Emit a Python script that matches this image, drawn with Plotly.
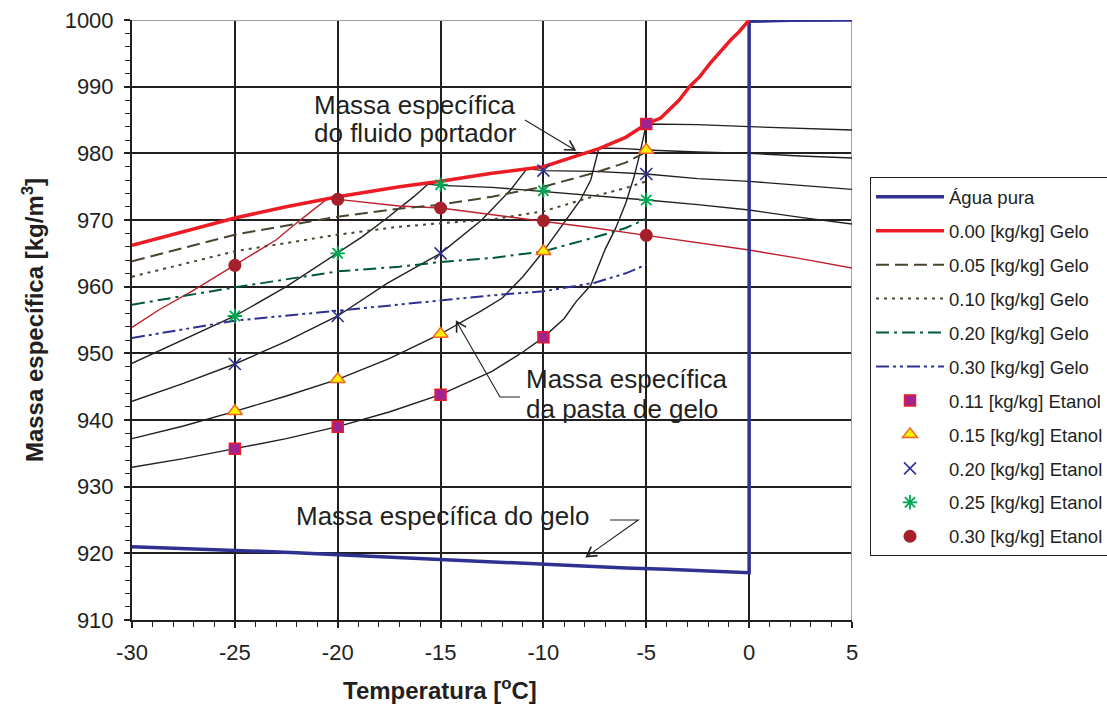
import math
import plotly.graph_objects as go

# ---------------- data ----------------
# pure water: ice below 0 °C, liquid water above
agua_T = [-30, -28, -26, -24, -22, -20, -18, -16, -14, -12, -10, -8, -6, -4, -2, 0, 0, 2, 5]
agua_rho = [921.0, 920.8, 920.5, 920.3, 920.1, 919.8, 919.5, 919.2, 918.9, 918.7,
            918.4, 918.1, 917.8, 917.6, 917.3, 917.1, 999.8, 999.95, 1000.0]

# carrier fluid density (0.00 kg/kg ice)
gelo000_T = [-30, -27.5, -25, -22.5, -20, -17, -15, -12.5, -10, -8.5, -7.3, -6, -5,
             -4.3, -3.4, -2.9, -2.4, -1.9, -0.9, -0.5, 0]
gelo000_rho = [966.2, 968.3, 970.3, 972.0, 973.5, 975.0, 975.8, 977.0, 978.0, 979.5,
               980.7, 982.4, 984.4, 985.3, 988.0, 990.0, 991.5, 993.5, 997.0, 998.2, 1000.0]

# iso ice-fraction lines
gelo_T = [-30, -25, -20, -17, -15, -12.5, -10, -7.5, -6, -5]
gelo005_rho = [963.8, 967.8, 970.5, 971.7, 972.3, 973.5, 975.0, 977.1, 978.6, 980.2]
gelo010_rho = [961.5, 965.3, 967.8, 969.0, 969.5, 970.1, 971.3, 973.6, 974.8, 975.8]
gelo020_rho = [957.3, 959.9, 962.3, 963.0, 963.7, 964.3, 965.3, 967.4, 968.8, 970.2]
gelo030_rho = [952.3, 954.9, 956.4, 957.3, 958.0, 958.7, 959.3, 960.6, 962.0, 963.3]

# ice slurry density curves for each ethanol mass fraction
etanol011_T = [-30, -27.5, -25, -22.5, -20, -17.5, -15, -12.5, -11, -10, -9, -8.4, -7.7,
               -7.0, -6.5, -6.0, -5.6, -5.3, -5.0, -2.5, 0, 2.5, 5]
etanol011_rho = [932.9, 934.2, 935.7, 937.2, 939.0, 941.2, 943.8, 947.3, 950.2, 952.4,
                 955.2, 957.8, 960.2, 965.6, 968.7, 972.5, 976.4, 980.1, 984.4, 984.3,
                 984.0, 983.8, 983.5]

etanol015_T = [-30, -27.5, -25, -22.5, -20, -17.5, -15, -13, -12, -11, -10, -9.0, -8.2,
               -7.7, -7.3, -6, -5, -2.5, 0, 2.5, 5]
etanol015_rho = [937.2, 939.1, 941.3, 943.6, 946.1, 949.2, 952.9, 956.4, 958.3, 961.5,
                 965.3, 969.5, 973.0, 976.0, 980.8, 980.7, 980.5, 980.2, 980.0, 979.6, 979.3]

etanol020_T = [-30, -27.5, -25, -22.5, -20, -17.6, -15, -13, -11.6, -10.8, -10, -7.5, -5,
               -2.5, 0, 2.5, 5]
etanol020_rho = [942.8, 945.5, 948.4, 951.8, 955.6, 960.5, 965.0, 970.0, 974.5, 977.7,
                 977.4, 977.3, 976.9, 976.2, 975.8, 975.2, 974.6]

etanol025_T = [-30, -27.5, -25, -22.5, -20, -18.8, -17.6, -16.3, -15.6, -15, -12.5, -10,
               -7.5, -5, -2.5, 0, 2.5, 5]
etanol025_rho = [948.5, 952.0, 955.6, 960.0, 965.0, 967.5, 970.3, 973.5, 975.4, 975.2,
                 974.9, 974.3, 973.7, 973.0, 972.3, 971.5, 970.4, 969.4]

etanol030_T = [-30, -28.7, -27.1, -25, -23, -21.9, -20.5, -20, -17, -15, -12.5, -10,
               -7.5, -5, -2.5, 0, 2.5, 5]
etanol030_rho = [953.9, 956.5, 959.3, 963.2, 967.0, 969.8, 973.2, 973.1, 972.1, 971.8,
                 970.8, 969.9, 968.8, 967.7, 966.6, 965.5, 964.2, 962.8]

# measured points
pontos_T = [-25, -20, -15, -10, -5]
pontos011 = [935.7, 939.0, 943.8, 952.4, 984.4]
pontos015 = [941.3, 946.1, 952.9, 965.3, 980.5]
pontos020 = [948.4, 955.6, 965.0, 977.4, 976.9]
pontos025 = [955.6, 965.0, 975.3, 974.4, 973.0]
pontos030 = [963.2, 973.1, 971.8, 969.9, 967.7]

# axis ticks
x_ticks = [-30, -25, -20, -15, -10, -5, 0, 5]
x_ticktext = ["-30", "-25", "-20", "-15", "-10", "-5", "0", "5"]

# ---------------- styles ----------------
FONT = "Liberation Sans, Arial, sans-serif"
INK = "#231F20"
NAVY = "#2E3192"
RED = "#ED1C24"
OLIVE = "#4A4530"
DKGREEN = "#00573D"

X_RANGE = [-30, 5]
Y_RANGE = [910, 1000]
MARGIN = dict(l=132, r=255, t=20, b=94)
W, H = 1107, 714
PX_X = (W - MARGIN["l"] - MARGIN["r"]) / (X_RANGE[1] - X_RANGE[0])
PX_Y = (H - MARGIN["t"] - MARGIN["b"]) / (Y_RANGE[1] - Y_RANGE[0])

fig = go.Figure()

# slurry curves (no legend entries)
for T, rho in [(etanol011_T, etanol011_rho), (etanol015_T, etanol015_rho),
               (etanol020_T, etanol020_rho), (etanol025_T, etanol025_rho)]:
    fig.add_trace(go.Scatter(x=T, y=rho, mode="lines", showlegend=False,
                             line=dict(color=INK, width=1.4), hoverinfo="skip"))
fig.add_trace(go.Scatter(x=etanol030_T, y=etanol030_rho, mode="lines", showlegend=False,
                         line=dict(color="#BE1E2D", width=1.4), hoverinfo="skip"))

# legend traces
fig.add_trace(go.Scatter(x=agua_T, y=agua_rho, mode="lines", name="Água pura",
                         legendgroup="a", legendrank=1,
                         line=dict(color=NAVY, width=3.5)))

gelo_series = [
    ("0.05 [kg/kg] Gelo", gelo005_rho, OLIVE, "13px,6px", 3),
    ("0.10 [kg/kg] Gelo", gelo010_rho, OLIVE, "3px,5px", 4),
    ("0.20 [kg/kg] Gelo", gelo020_rho, DKGREEN, "13px,5px,3px,5px", 5),
    ("0.30 [kg/kg] Gelo", gelo030_rho, NAVY, "13px,4px,3px,4px,3px,4px", 6),
]
for name, rho, color, dash, rank in gelo_series:
    fig.add_trace(go.Scatter(x=gelo_T, y=rho, mode="lines", name=name,
                             legendgroup=name, legendrank=rank,
                             line=dict(color=color, width=2, dash=dash)))

fig.add_trace(go.Scatter(x=gelo000_T, y=gelo000_rho, mode="lines",
                         name="0.00 [kg/kg] Gelo", legendgroup="g0", legendrank=2,
                         line=dict(color=RED, width=3.5)))

marker_series = [
    ("0.11 [kg/kg] Etanol", pontos011,
     dict(symbol="square", size=11, color="#A0238F", line=dict(color=RED, width=1.5)), 7),
    ("0.15 [kg/kg] Etanol", pontos015,
     dict(symbol="triangle-up", size=13, color="#FFF200", line=dict(color="#F26522", width=1.5)), 8),
    ("0.20 [kg/kg] Etanol", pontos020,
     dict(symbol="x-thin-open", size=12, color=NAVY, line=dict(color=NAVY, width=1.6)), 9),
    ("0.25 [kg/kg] Etanol", pontos025,
     dict(symbol="asterisk-open", size=12, color="#00A651", line=dict(color="#00A651", width=1.8)), 10),
    ("0.30 [kg/kg] Etanol", pontos030,
     dict(symbol="circle", size=13, color="#A6202C", line=dict(color="#A6202C", width=0)), 11),
]
for name, rho, mk, rank in marker_series:
    fig.add_trace(go.Scatter(x=pontos_T, y=rho, mode="markers", name=name,
                             legendgroup=name, legendrank=rank, marker=mk))

# ---------------- callouts ----------------
def label(text, x, y):
    fig.add_annotation(x=x, y=y, xref="x", yref="y", text=text, showarrow=False,
                       xanchor="left", yanchor="middle",
                       font=dict(family=FONT, size=26, color=INK))


def leader(points, arm_px=11, half_angle=30):
    """Polyline callout ending in an open V arrowhead at the last point."""
    path = "M" + " L".join(f"{x},{y}" for x, y in points)
    fig.add_shape(type="path", path=path, xref="x", yref="y",
                  line=dict(color=INK, width=1.1))
    (x0, y0), (x1, y1) = points[-2], points[-1]
    dx, dy = (x1 - x0) * PX_X, -(y1 - y0) * PX_Y
    ang = math.atan2(dy, dx)
    arms = []
    for s in (-1, 1):
        a = ang + math.pi + s * math.radians(half_angle)
        arms.append((x1 + arm_px * math.cos(a) / PX_X, y1 - arm_px * math.sin(a) / PX_Y))
    head = f"M{arms[0][0]},{arms[0][1]} L{x1},{y1} L{arms[1][0]},{arms[1][1]}"
    fig.add_shape(type="path", path=head, xref="x", yref="y",
                  line=dict(color=INK, width=1.6))


label("Massa específica", -21.25, 987.3)
label("do fluido portador", -21.25, 983.1)
leader([(-10.9, 985.0), (-8.47, 980.5)])

label("Massa específica", -10.96, 946.1)
label("da pasta de gelo", -10.96, 941.6)
leader([(-11.14, 943.45), (-12.11, 943.45), (-14.22, 954.75)])

label("Massa específica do gelo", -22.14, 925.6)
leader([(-6.76, 925.0), (-5.39, 925.0), (-7.90, 919.5)])

# x-axis title (placed left of centre)
fig.add_annotation(x=0.4278, y=-0.115, xref="paper", yref="paper",
                   text="<b>Temperatura [<sup>o</sup>C]</b>", showarrow=False,
                   xanchor="center", yanchor="middle",
                   font=dict(family=FONT, size=24, color=INK))

# light top and right frame
fig.add_shape(type="line", x0=X_RANGE[0], x1=X_RANGE[1], y0=Y_RANGE[1], y1=Y_RANGE[1],
              layer="between", line=dict(color="#A0A0A0", width=2))
fig.add_shape(type="line", x0=X_RANGE[1], x1=X_RANGE[1], y0=Y_RANGE[0], y1=Y_RANGE[1],
              layer="between", line=dict(color="#A0A0A0", width=2))

axis_common = dict(
    showgrid=True, gridcolor=INK, gridwidth=1.5, zeroline=False,
    showline=True, linecolor=INK, linewidth=2,
    ticks="outside", ticklen=6, tickwidth=1.5, tickcolor=INK,
    tickfont=dict(family=FONT, size=22, color=INK), automargin=False,
)

fig.update_layout(
    width=W, height=H,
    margin=dict(**MARGIN, autoexpand=False),
    paper_bgcolor="white", plot_bgcolor="white",
    font=dict(family=FONT, color=INK),
    xaxis=dict(range=X_RANGE, tickmode="array", tickvals=x_ticks, ticktext=x_ticktext,
               minor=dict(dtick=1, ticks="outside", ticklen=5, tickwidth=1, tickcolor=INK),
               ticklabelstandoff=6,
               **axis_common),
    yaxis=dict(range=Y_RANGE, dtick=10, tick0=910,
               minor=dict(dtick=2, ticks="outside", ticklen=5, tickwidth=1, tickcolor=INK),
               title=dict(text="<b>Massa específica [kg/m<sup>3</sup>]</b>",
                          font=dict(family=FONT, size=24, color=INK), standoff=14),
               ticklabelstandoff=6,
               **axis_common),
    legend=dict(x=1.025, y=0.738, xanchor="left", yanchor="top",
                bordercolor=INK, borderwidth=1, bgcolor="white",
                font=dict(family=FONT, size=18.5, color=INK),
                itemwidth=68, tracegroupgap=6.9, traceorder="grouped"),
    showlegend=True,
)

fig.write_html("out.html")
